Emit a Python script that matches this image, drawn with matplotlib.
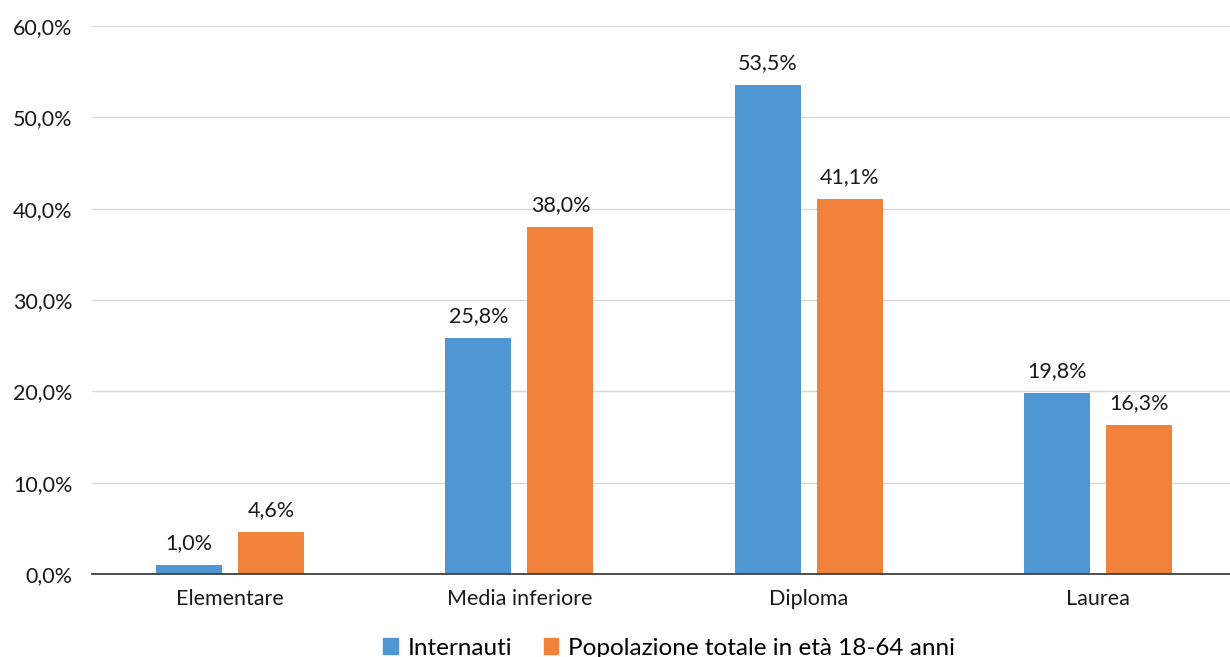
import numpy as np
import matplotlib.pyplot as plt
from matplotlib.patches import Patch

plt.rcParams['font.family'] = ['Lato', 'DejaVu Sans']

categories = ['Elementare', 'Media inferiore', 'Diploma', 'Laurea']
internauti = [1.0, 25.8, 53.5, 19.8]
popolazione = [4.6, 38.0, 41.1, 16.3]
series_names = ['Internauti', 'Popolazione totale in età 18-64 anni']
yticks = [0, 10, 20, 30, 40, 50, 60]

blue = '#5096D2'
orange = '#F0823B'
fs = 15.5

fig = plt.figure(figsize=(12.3, 6.57), dpi=100)
ax = fig.add_axes([92 / 1230, 1 - 574 / 657, 1138 / 1230, 548 / 657])

x = np.arange(len(categories))
w = 0.228
off = 0.142
b1 = ax.bar(x - off, internauti, w, color=blue)
b2 = ax.bar(x + off, popolazione, w, color=orange)

def fmt(v):
    return f'{v:.1f}%'.replace('.', ',')

for bars, vals in ((b1, internauti), (b2, popolazione)):
    for b, v in zip(bars, vals):
        ax.text(b.get_x() + b.get_width() / 2, v + 1.3, fmt(v),
                ha='center', va='bottom', fontsize=fs, color='#1a1a1a')

ax.set_xlim(-0.477, 3.456)
ax.set_ylim(0, 60)
ax.set_yticks(yticks)
ax.set_yticklabels([fmt(t) for t in yticks], fontsize=fs, color='#1a1a1a')
ax.set_xticks(x)
ax.set_xticklabels(categories, fontsize=fs, color='#1a1a1a')
ax.tick_params(length=0)
ax.tick_params(axis='x', pad=11)
ax.tick_params(axis='y', pad=14)
ax.yaxis.grid(True, color='#d9d9d9', linewidth=1)
ax.set_axisbelow(True)
for s in ['top', 'right', 'left']:
    ax.spines[s].set_visible(False)
ax.spines['bottom'].set_color('#404040')
ax.spines['bottom'].set_linewidth(1.3)

handles = [Patch(color=blue), Patch(color=orange)]
fig.legend(handles, series_names, loc='lower center', bbox_to_anchor=(0.544, -0.036),
           ncol=2, frameon=False, fontsize=17.5, handlelength=0.6, handleheight=0.6,
           handletextpad=0.4, columnspacing=1.3)

fig.savefig('out.png', dpi=100)
